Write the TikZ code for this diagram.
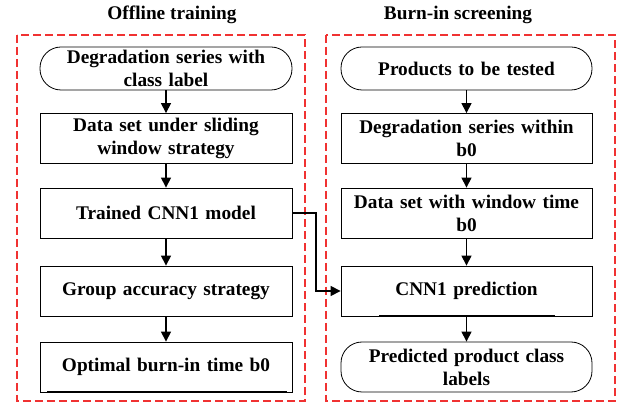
\documentclass[tikz,border=0pt]{standalone}
\usepackage{fontspec}
\setmainfont{Liberation Serif}
\usetikzlibrary{arrows.meta}
\definecolor{dashred}{RGB}{240,50,50}
\begin{document}
\begin{tikzpicture}[x=1pt,y=-1pt,
  box/.style={draw=black,line width=0.8pt,minimum width=252pt,minimum height=50pt,inner sep=2pt,align=center,font=\fontsize{19.3}{23}\selectfont\bfseries,text width=246pt},
  term/.style={box,rounded corners=21pt,minimum height=43pt},
  redframe/.style={draw=dashred,line width=1.5pt,dash pattern=on 8pt off 4pt},
  title/.style={font=\fontsize{19.3}{23}\selectfont\bfseries},
  arr/.style={-{Triangle[length=10pt,width=10pt]},line width=1.2pt}]
\useasboundingbox (0,0) rectangle (619,403);
\fill[white] (0,0) rectangle (619,403);
\draw[redframe] (17,35) rectangle (305,401);
\draw[redframe] (326,35) rectangle (615,401);
\node[title] (t1) at (172,15) {Offline training};
\node[title] (t2) at (458,15) {Burn-in screening};
% left column
\node[term] (a1) at (166,68.5) {Degradation series with\\class label};
\node[box] (a2) at (166,138.5) {Data set under sliding\\window strategy};
\node[box] (a3) at (166,213) {Trained CNN1 model};
\node[box] (a4) at (166,291) {Group accuracy strategy};
\node[box] (a5) at (166,367) {Optimal burn-in time b0};
% right column
\node[term,minimum width=251pt] (b1) at (466.5,68.5) {Products to be tested};
\node[box,minimum width=251pt] (b2) at (466.5,138.5) {Degradation series within\\b0};
\node[box,minimum width=251pt] (b3) at (466.5,213) {Data set with window time\\b0};
\node[box,minimum width=251pt] (b4) at (466.5,291) {CNN1 prediction};
\node[term,minimum width=251pt,minimum height=50pt] (b5) at (466.5,367) {Predicted product class\\labels};
% thick bottom marks
\coordinate (m1) at (47,392);
\coordinate (m2) at (287,392);
\draw[line width=1.8pt] (m1) -- (m2);
\coordinate (m3) at (379,316);
\coordinate (m4) at (555,316);
\draw[line width=1.8pt] (m3) -- (m4);
% arrows
\draw[arr] (a1) -- (a2);
\draw[arr] (a2) -- (a3);
\draw[arr] (a3) -- (a4);
\draw[arr] (a4) -- (a5);
\draw[arr] (b1) -- (b2);
\draw[arr] (b2) -- (b3);
\draw[arr] (b3) -- (b4);
\draw[arr] (b4) -- (b5);
\coordinate (k) at (316,213);
\draw[arr] (a3.east) -- (k) |- (b4.west);
\end{tikzpicture}
\end{document}
